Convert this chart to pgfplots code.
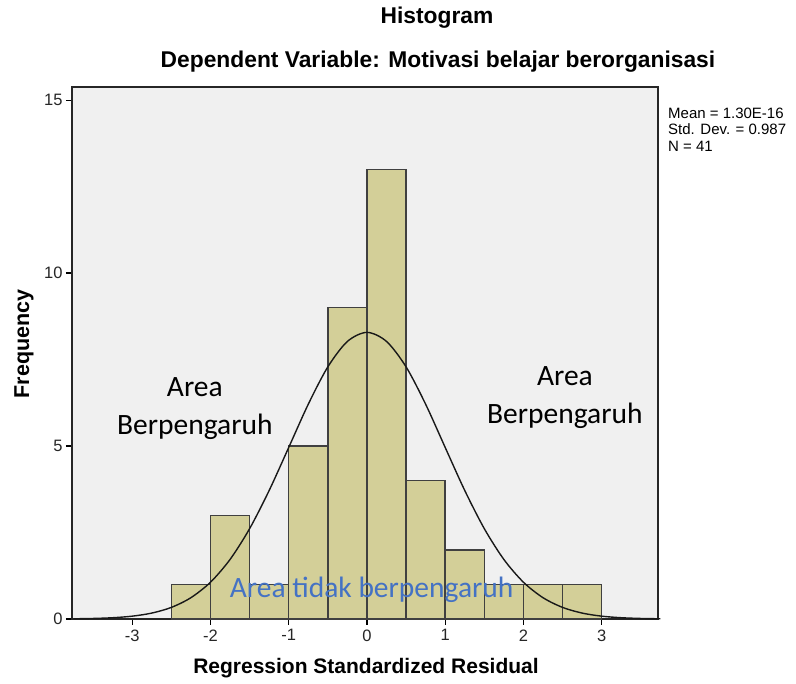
\documentclass[border=0pt]{standalone}
\usepackage{pgfplots}
\pgfplotsset{compat=1.18}
\usepackage{fontspec}
\setmainfont{Liberation Sans}
\newfontfamily\calibri{Carlito}
\definecolor{barfill}{HTML}{D3CF98}
\definecolor{bgc}{HTML}{F0F0F0}
\definecolor{annblue}{HTML}{4472C4}
\begin{document}
\begin{tikzpicture}[x=1pt,y=1pt]
\useasboundingbox (0,0) rectangle (796,684);
\begin{axis}[
  at={(72pt,65pt)}, anchor=south west,
  scale only axis, width=586pt, height=532pt,
  xmin=-3.77, xmax=3.72, ymin=0, ymax=15.38,
  xtick={-3,-2,-1,0,1,2,3}, ytick={0,5,10,15},
  tick align=outside, major tick length=6pt,
  tick style={black, line width=1.2pt},
  axis line style={black!85, line width=1.6pt},
  axis background/.style={fill=bgc},
  xtick pos=bottom, ytick pos=left,
  ticklabel style={font=\fontsize{16.5}{19}\selectfont, text=black!85},
  xticklabel style={yshift=-1pt},
  /pgf/number format/assume math mode=true,
  clip=false,
]
\addplot[ybar interval, fill=barfill, draw=black!75, line width=1.4pt] coordinates {
  (-2.5,1) (-2,3) (-1.5,1) (-1,5) (-0.5,9) (0,13) (0.5,4) (1,2) (1.5,1) (2,1) (2.5,1) (3,1)};
\addplot[black!90, line width=1.4pt, smooth] coordinates {
  (-3.75,0.0061) (-3.5,0.0154) (-3.25,0.0366) (-3,0.0817) (-2.75,0.171) (-2.5,0.335)
  (-2.25,0.616) (-2,1.063) (-1.75,1.721) (-1.5,2.611) (-1.25,3.715) (-1,4.959)
  (-0.75,6.209) (-0.5,7.289) (-0.25,8.024) (0,8.286) (0.25,8.024) (0.5,7.289)
  (0.75,6.209) (1,4.959) (1.25,3.715) (1.5,2.611) (1.75,1.721) (2,1.063)
  (2.25,0.616) (2.5,0.335) (2.75,0.171) (3,0.0817) (3.25,0.0366) (3.5,0.0154) (3.75,0.0061)};
\node[align=center, font=\calibri\fontsize{29.5}{38}\selectfont] at (axis cs:-2.2,6.07) {Area\\Berpengaruh};
\node[align=center, font=\calibri\fontsize{29.5}{38}\selectfont] at (axis cs:2.53,6.39) {Area\\Berpengaruh};
\node[font=\calibri\fontsize{29.5}{34}\selectfont, text=annblue] at (axis cs:0.06,0.84) {Area tidak berpengaruh};
\end{axis}
\node[font=\bfseries\fontsize{22.8}{26}\selectfont] at (437,666) {Histogram};
\node[font=\bfseries\fontsize{22.8}{26}\selectfont] at (438,622) {Dependent Variable: Motivasi belajar berorganisasi};
\node[font=\bfseries\fontsize{21.5}{24}\selectfont, rotate=90] at (24,340) {Frequency};
\node[font=\bfseries\fontsize{21}{24}\selectfont] at (366,16) {Regression Standardized Residual};
\node[anchor=north west, align=left, font=\fontsize{15}{16.3}\selectfont, inner sep=0pt] at (668,576) {Mean = 1.30E-16\\Std. Dev. = 0.987\\N = 41};
\end{tikzpicture}
\end{document}
